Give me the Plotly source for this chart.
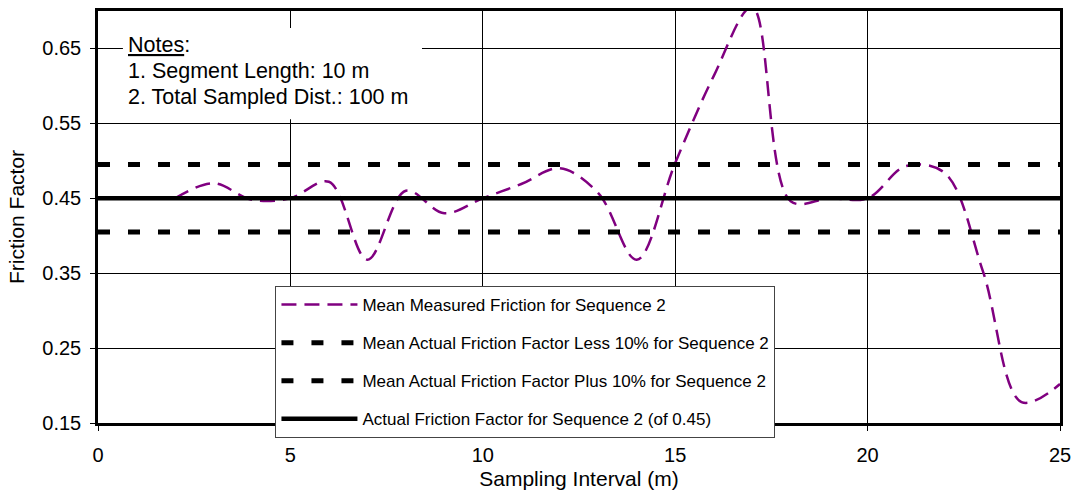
import plotly.graph_objects as go

# Data
interval_m = [2, 3, 4, 5, 6, 7, 8, 9, 10, 11, 12, 13, 14, 15, 16, 17, 18, 19, 20, 21, 22, 23, 24, 25]
measured = [0.45, 0.47, 0.448, 0.45, 0.472, 0.368, 0.46, 0.43, 0.45, 0.469, 0.49, 0.457, 0.368,
            0.497, 0.613, 0.705, 0.446, 0.45, 0.45, 0.493, 0.484, 0.352, 0.178, 0.202]
actual_value = 0.45
less_10 = 0.405
plus_10 = 0.495
line_x = [0, 25]

x_ticks = [0, 5, 10, 15, 20, 25]
y_ticks = [0.15, 0.25, 0.35, 0.45, 0.55, 0.65]
y_tick_labels = ["0.15", "0.25", "0.35", "0.45", "0.55", "0.65"]

names = [
    "Mean Measured Friction for Sequence 2",
    "Mean Actual Friction Factor Less 10% for Sequence 2",
    "Mean Actual Friction Factor Plus 10% for Sequence 2",
    "Actual Friction Factor for Sequence 2 (of 0.45)",
]
notes = ["<u>Notes</u>:", "1. Segment Length: 10 m", "2. Total Sampled Dist.: 100 m"]

FONT = "Arial, Liberation Sans, sans-serif"

fig = go.Figure()
fig.add_trace(go.Scatter(
    x=interval_m, y=measured, mode="lines", name=names[0], legendgroup="a",
    line=dict(color="#800080", width=2.5, dash="15px,8px", shape="spline", smoothing=1.0),
))
fig.add_trace(go.Scatter(
    x=line_x, y=[less_10, less_10], mode="lines", name=names[1], legendgroup="b",
    line=dict(color="black", width=5, dash="12px,18px"),
))
fig.add_trace(go.Scatter(
    x=line_x, y=[plus_10, plus_10], mode="lines", name=names[2], legendgroup="c",
    line=dict(color="black", width=5, dash="12px,18px"),
))
fig.add_trace(go.Scatter(
    x=line_x, y=[actual_value, actual_value], mode="lines", name=names[3], legendgroup="d",
    line=dict(color="black", width=4.5),
))

# Notes box (white background interrupting gridlines)
fig.add_shape(type="rect", xref="paper", yref="paper",
              x0=(123 - 98) / 965, x1=(423 - 98) / 965,
              y0=(423 - 117) / 415, y1=(423 - 25) / 415,
              fillcolor="white", line=dict(width=0), layer="above")
note_y = [42, 68, 95]
for txt, py in zip(notes, note_y):
    fig.add_annotation(text=txt, xref="paper", yref="paper",
                       x=(126 - 98) / 965, y=(423 - py) / 415,
                       xanchor="left", yanchor="middle", showarrow=False,
                       font=dict(family=FONT, size=21.5, color="black"))

fig.update_layout(
    width=1079, height=499,
    margin=dict(l=98, r=16, t=8, b=76),
    paper_bgcolor="white", plot_bgcolor="white",
    font=dict(family=FONT, size=20, color="black"),
    legend=dict(
        x=(276 - 98) / 965, y=(423 - 285) / 415, xanchor="left", yanchor="top",
        bgcolor="white", bordercolor="#444", borderwidth=1,
        font=dict(family=FONT, size=17, color="black"),
        traceorder="grouped", tracegroupgap=13, itemwidth=76,
    ),
    xaxis=dict(
        range=[0, 25], tickvals=x_ticks, showgrid=True, gridcolor="black", gridwidth=1,
        showline=True, linecolor="black", linewidth=2.5, mirror=True,
        ticks="outside", ticklen=5, tickcolor="black", zeroline=False,
        ticklabelstandoff=7,
        title=dict(text="Sampling Interval (m)", font=dict(size=21), standoff=7),
        tickfont=dict(size=20),
    ),
    yaxis=dict(
        range=[0.15, 0.70], tickvals=y_ticks, ticktext=y_tick_labels,
        showgrid=True, gridcolor="black", gridwidth=1,
        showline=True, linecolor="black", linewidth=2.5, mirror=True,
        ticks="outside", ticklen=5, tickcolor="black", zeroline=False,
        ticklabelstandoff=5,
        title=dict(text="Friction Factor", font=dict(size=21), standoff=12),
        tickfont=dict(size=20),
    ),
)

fig.write_html("out.html")
